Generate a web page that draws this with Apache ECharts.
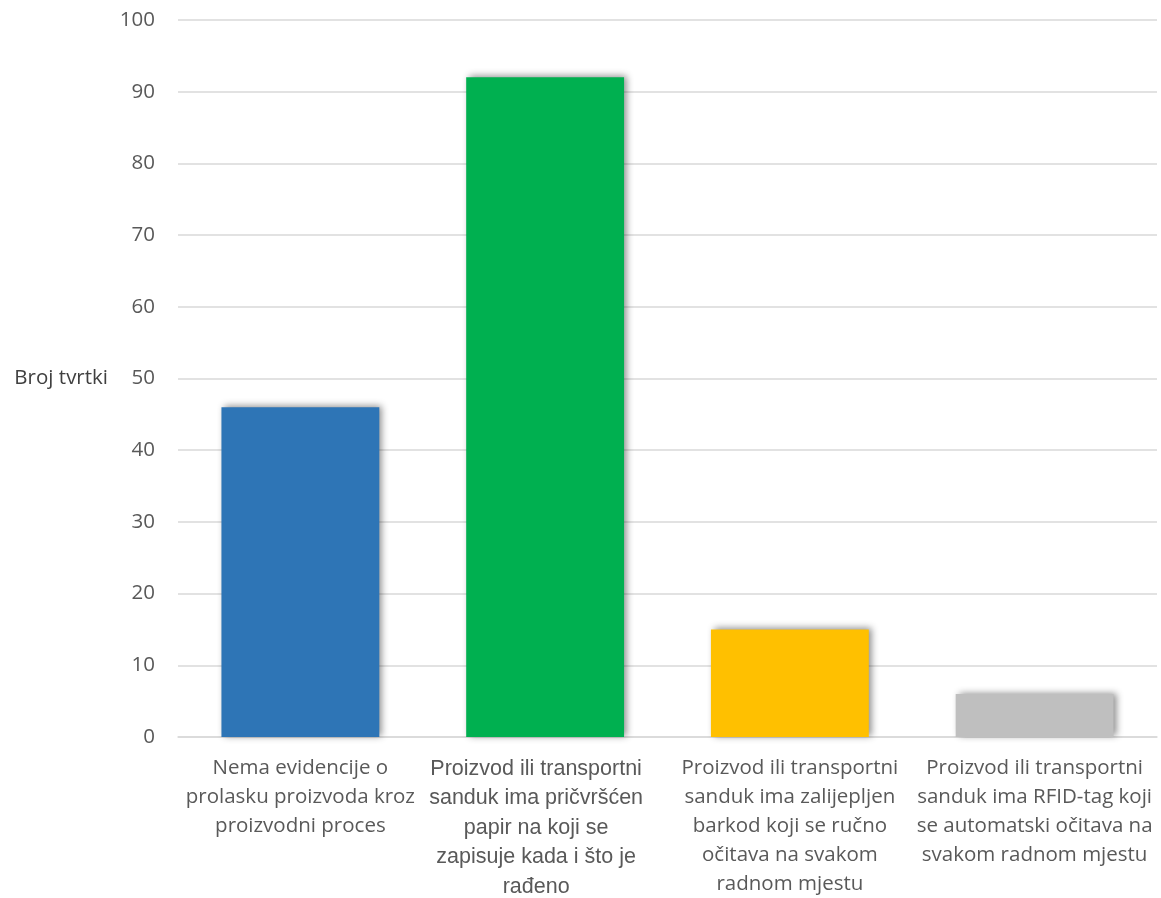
<!DOCTYPE html>
<html><head><meta charset="utf-8">
<script src="https://cdn.jsdelivr.net/npm/echarts@6/dist/echarts.min.js"></script>
<style>html,body{margin:0;padding:0;background:#fff}#c{width:1161px;height:898px}</style>
</head><body><div id="c"></div>
<script>
const categories = [
  "Nema evidencije o\nprolasku proizvoda kroz\nproizvodni proces",
  "Proizvod ili transportni\nsanduk ima pričvršćen\npapir na koji se\nzapisuje kada i što je\nrađeno",
  "Proizvod ili transportni\nsanduk ima zalijepljen\nbarkod koji se ručno\nočitava na svakom\nradnom mjestu",
  "Proizvod ili transportni\nsanduk ima RFID-tag koji\nse automatski očitava na\nsvakom radnom mjestu"
];
const values = [46, 92, 15, 6];
const colors = ["#2E75B6", "#00B050", "#FFC000", "#BFBFBF"];
const yTicks = { min: 0, max: 100, interval: 10 };
const yName = "Broj tvrtki";

const chart = echarts.init(document.getElementById('c'));
chart.setOption({
  animation: false,
  grid: { left: 178, right: 4, top: 20, bottom: 161 },
  xAxis: {
    type: 'category',
    data: categories,
    axisTick: { show: false },
    axisLine: { lineStyle: { color: '#D9D9D9', width: 1.5 } },
    axisLabel: {
      interval: 0,
      margin: 17,
      formatter: (v, i) => v.split('\n').map(l => (i === 1 ? '{b|' : '{a|') + l + '}').join('\n'),
      rich: {
        a: { fontFamily: 'Open Sans', fontSize: 20.5, color: '#595959', lineHeight: 29 },
        b: { fontFamily: 'Liberation Sans', fontSize: 21.5, color: '#595959', lineHeight: 29.5, padding: [0, 18, 0, 0] }
      }
    }
  },
  yAxis: {
    type: 'value',
    min: yTicks.min, max: yTicks.max, interval: yTicks.interval,
    name: yName,
    nameLocation: 'middle',
    nameRotate: 0,
    nameGap: 70,
    nameTextStyle: { fontFamily: 'Open Sans', fontSize: 20.5, color: '#404040', align: 'right', padding: [5, 0, 0, 0] },
    axisLine: { show: false },
    axisTick: { show: false },
    axisLabel: { margin: 23, fontFamily: 'Open Sans', fontSize: 20.5, color: '#595959' },
    splitLine: { lineStyle: { color: '#D9D9D9', width: 1.5 } }
  },
  series: [{
    type: 'bar',
    barWidth: '64.5%',
    data: values.map((v, i) => ({ value: v, itemStyle: { color: colors[i] } })),
    itemStyle: { shadowColor: 'rgba(0,0,0,0.45)', shadowBlur: 7, shadowOffsetX: 3, shadowOffsetY: -1 }
  }]
});
</script></body></html>
